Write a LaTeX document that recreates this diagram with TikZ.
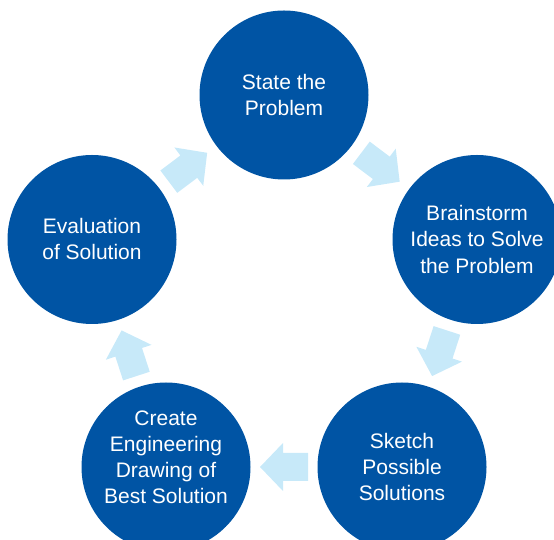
\documentclass[tikz,border=0pt]{standalone}
\usepackage{fontspec}
\setmainfont{Liberation Sans}
\usetikzlibrary{calc}
\definecolor{stageblue}{RGB}{0,84,164}
\definecolor{flowblue}{RGB}{199,233,249}

\begin{document}
\begin{tikzpicture}[
    x=1pt, y=1pt,
    stage/.style={circle, fill=stageblue, text=white, align=center, minimum size=169pt, inner sep=0pt, font=\fontsize{21}{26}\selectfont},
    flow/.pic={\fill [flowblue] (-24,-14) -- (1,-14) -- (1,-24) -- (24,0) -- (1,24) -- (1,14) -- (-24,14) -- cycle;}
]
    \useasboundingbox (0,0) rectangle (554,540);
    \node [stage] (s1) at (284,445) {State the\\Problem};
    \node [stage] (s2) at (477,300.5) {Brainstorm\\Ideas to Solve\\the Problem};
    \node [stage] (s3) at (402,73) {Sketch\\Possible\\Solutions};
    \node [stage, text depth=20pt] (s4) at (166,73) {Create\\Engineering\\Drawing of\\Best Solution};
    \node [stage] (s5) at (92,300.5) {Evaluation\\of Solution};

    \pic [rotate=-37] at ($(s1)!0.5!(s2)$) {flow};
    \pic [rotate=-108] at ($(s2)!0.5!(s3)$) {flow};
    \pic [rotate=180] at ($(s3)!0.5!(s4)$) {flow};
    \pic [rotate=108] at ($(s4)!0.5!(s5)$) {flow};
    \pic [rotate=37] at ($(s5)!0.5!(s1)$) {flow};
\end{tikzpicture}
\end{document}
